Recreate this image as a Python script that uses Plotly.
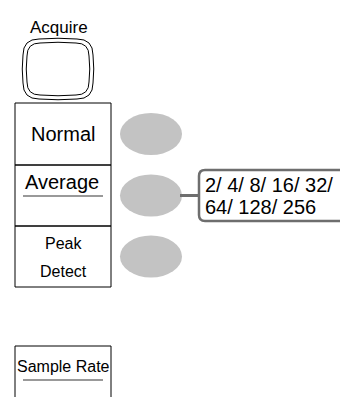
import plotly.graph_objects as go

# ---- content ----
button_label = "Acquire"
menu_labels = ["Normal", "Average", "Peak<br>Detect"]
menu_font_sizes = [20, 20, 16]
underlined = [False, True, False]
option_lines = ["2/ 4/ 8/ 16/ 32/", "64/ 128/ 256"]
extra_label = "Sample Rate"

W, H = 348, 397
FONT = "Arial, Liberation Sans, sans-serif"

fig = go.Figure()
shapes = []
annotations = []


def tv_path(x0, x1, y0, y1, r, b):
    cx = (x0 + x1) / 2
    cy = (y0 + y1) / 2
    return (f"M {x0+r},{y0} Q {cx},{y0-b} {x1-r},{y0} Q {x1},{y0} {x1},{y0+r} "
            f"Q {x1+b},{cy} {x1},{y1-r} Q {x1},{y1} {x1-r},{y1} "
            f"Q {cx},{y1+b} {x0+r},{y1} Q {x0},{y1} {x0},{y1-r} "
            f"Q {x0-b},{cy} {x0},{y0+r} Q {x0},{y0} {x0+r},{y0} Z")


def rrect(x0, x1, y0, y1, r):
    return (f"M {x0+r},{y0} L {x1-r},{y0} Q {x1},{y0} {x1},{y0+r} L {x1},{y1-r} "
            f"Q {x1},{y1} {x1-r},{y1} L {x0+r},{y1} Q {x0},{y1} {x0},{y1-r} "
            f"L {x0},{y0+r} Q {x0},{y0} {x0+r},{y0} Z")


def text(x, y, s, size, xanchor="center"):
    annotations.append(dict(x=x, y=y, text=s, showarrow=False, xref="x", yref="y",
                            xanchor=xanchor, yanchor="middle",
                            font=dict(family=FONT, size=size, color="#000")))

# Acquire button
text(51, 19, button_label, 17)
shapes.append(dict(type="path", path=tv_path(15, 85, 31, 91, 16, 1.5),
                   line=dict(color="#000", width=1)))
shapes.append(dict(type="path", path=tv_path(19, 81, 35, 87, 13, 1.5),
                   line=dict(color="#000", width=1)))

# Menu boxes
box_x0, box_x1 = 7, 103
box_tops = [95, 157, 218]
box_bots = [157, 218, 279]
for i, lab in enumerate(menu_labels):
    y0, y1 = box_tops[i], box_bots[i]
    shapes.append(dict(type="rect", x0=box_x0, x1=box_x1, y0=y0, y1=y1,
                       line=dict(color="#000", width=1)))
    if underlined[i]:
        text(54, y0 + 17, lab, menu_font_sizes[i])
        shapes.append(dict(type="line", x0=15, x1=95, y0=y0 + 31, y1=y0 + 31,
                           line=dict(color="#999", width=2)))
    elif "<br>" in lab:
        a, b = lab.split("<br>")
        text(55, y0 + 17, a, menu_font_sizes[i])
        text(55, y0 + 45, b, menu_font_sizes[i])
    else:
        text(55, (y0 + y1) / 2, lab, menu_font_sizes[i])
    cy = (y0 + y1) / 2
    shapes.append(dict(type="circle", x0=112, x1=174, y0=cy - 21, y1=cy + 21,
                       fillcolor="#c3c3c3", line=dict(width=0)))

# Connector and option box
cy = (box_tops[1] + box_bots[1]) / 2
shapes.append(dict(type="line", x0=172, x1=192, y0=cy, y1=cy,
                   line=dict(color="#6e6e6e", width=3)))
shapes.append(dict(type="path", path=rrect(191, 346, 162, 213, 6),
                   fillcolor="#fff", line=dict(color="#6e6e6e", width=2.5)))
text(195, 177, option_lines[0], 20, xanchor="left")
text(195, 199, option_lines[1], 20, xanchor="left")

# Sample Rate box
shapes.append(dict(type="path", path=f"M 7,{H+5} L 7,338 L 103,338 L 103,{H+5}",
                   line=dict(color="#000", width=1)))
text(55, 358, extra_label, 16)
shapes.append(dict(type="line", x0=15, x1=95, y0=372, y1=372,
                   line=dict(color="#999", width=2)))

fig.update_layout(width=W, height=H, margin=dict(l=0, r=0, t=0, b=0),
                  paper_bgcolor="#fff", plot_bgcolor="#fff",
                  shapes=shapes, annotations=annotations, showlegend=False,
                  xaxis=dict(range=[0, W], visible=False, fixedrange=True),
                  yaxis=dict(range=[H, 0], visible=False, fixedrange=True))
fig.write_html("out.html", config={"displayModeBar": False})
